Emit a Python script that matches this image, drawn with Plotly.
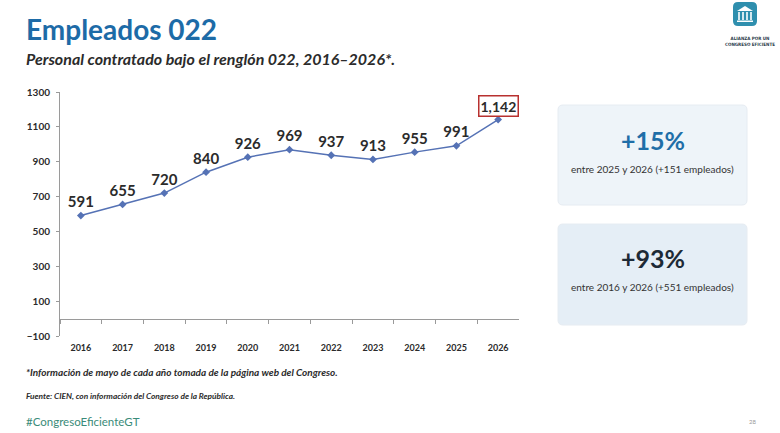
import plotly.graph_objects as go

W, H = 780, 433

years = ["2016", "2017", "2018", "2019", "2020", "2021", "2022", "2023", "2024", "2025", "2026"]
employees = [591, 655, 720, 840, 926, 969, 937, 913, 955, 991, 1142]
y_ticks = [-100, 100, 300, 500, 700, 900, 1100, 1300]

kpi_main = ["+15%", "+93%"]
kpi_sub = ["entre 2025 y 2026 (+151 empleados)", "entre 2016 y 2026 (+551 empleados)"]

FONT = "Lato"
DARK = "#2b2b2b"


def px_x(x):
    return x / W


def px_y(y):
    return 1 - y / H


def rounded_rect(x0, y0, x1, y1, r):
    # path in paper coords, rounded corners, input in pixels
    X = lambda v: px_x(v)
    Y = lambda v: px_y(v)
    return (f"M {X(x0 + r)},{Y(y0)} L {X(x1 - r)},{Y(y0)} "
            f"Q {X(x1)},{Y(y0)} {X(x1)},{Y(y0 + r)} L {X(x1)},{Y(y1 - r)} "
            f"Q {X(x1)},{Y(y1)} {X(x1 - r)},{Y(y1)} L {X(x0 + r)},{Y(y1)} "
            f"Q {X(x0)},{Y(y1)} {X(x0)},{Y(y1 - r)} L {X(x0)},{Y(y0 + r)} "
            f"Q {X(x0)},{Y(y0)} {X(x0 + r)},{Y(y0)} Z")


labels = [f"{v:,}" for v in employees]
labels[-1] = ""

fig = go.Figure()
fig.add_trace(go.Scatter(
    x=years, y=employees, mode="lines+markers+text",
    line=dict(color="#5572b5", width=1.5),
    marker=dict(symbol="diamond", size=6, color="#5572b5"),
    text=labels, textposition="top center",
    textfont=dict(family=FONT, size=15, color=DARK, weight="bold"),
    cliponaxis=False, hoverinfo="skip",
))

# highlighted last value
fig.add_annotation(
    x=len(years) - 1, y=employees[-1], xref="x", yref="y",
    text=f"<b>{employees[-1]:,}</b>", showarrow=False, yshift=14,
    font=dict(family=FONT, size=14, color=DARK),
    bordercolor="#b8312f", borderwidth=1.5, borderpad=1, bgcolor="white",
)

y0_dom, y1_dom = px_y(336), px_y(92)
rng = [-100, 1300]
zero_pos = y0_dom + (0 - rng[0]) / (rng[1] - rng[0]) * (y1_dom - y0_dom)

fig.update_layout(
    width=W, height=H,
    margin=dict(l=0, r=0, t=0, b=0, autoexpand=False),
    paper_bgcolor="white", plot_bgcolor="white",
    showlegend=False,
    font=dict(family=FONT, color=DARK),
    xaxis=dict(
        domain=[px_x(60), px_x(519)],
        anchor="free", position=zero_pos,
        type="category", range=[-0.5, 10.5],
        showline=True, linecolor="#9a9a9a", linewidth=1,
        ticks="outside", tickson="boundaries", ticklen=4, tickcolor="#9a9a9a",
        ticklabelstandoff=21,
        tickfont=dict(family=FONT, size=9, color=DARK, weight="bold"),
        showgrid=False, zeroline=False,
    ),
    yaxis=dict(
        domain=[y0_dom, y1_dom],
        range=rng, tickvals=y_ticks,
        showline=True, linecolor="#9a9a9a", linewidth=1,
        ticks="outside", ticklen=3, tickcolor="#9a9a9a",
        ticklabelstandoff=4,
        tickfont=dict(family=FONT, size=10, color=DARK, weight="bold"),
        showgrid=False, zeroline=False,
    ),
)

# KPI boxes
boxes = [(558, 105, 747, 205, "#eef4f9", "#1f6ea8", 140, 169),
         (558, 224, 747, 325, "#e5eef6", "#1d2a36", 258, 287)]
for i, (bx0, by0, bx1, by1, fill, col, ty, sy) in enumerate(boxes):
    fig.add_shape(type="path", path=rounded_rect(bx0, by0, bx1, by1, 5),
                  xref="paper", yref="paper", fillcolor=fill,
                  line=dict(color="#e6ecf2", width=1), layer="below")
    fig.add_annotation(x=px_x((bx0 + bx1) / 2), y=px_y(ty), xref="paper", yref="paper",
                       text=f"<b>{kpi_main[i]}</b>", showarrow=False,
                       xanchor="center", yanchor="middle",
                       font=dict(family=FONT, size=25, color=col, weight=900))
    fig.add_annotation(x=px_x((bx0 + bx1) / 2), y=px_y(sy), xref="paper", yref="paper",
                       text=kpi_sub[i], showarrow=False,
                       xanchor="center", yanchor="middle",
                       font=dict(family=FONT, size=10, color="#333333"))

# titles and notes
texts = [
    ("<b>Empleados 022</b>", 24, 29, 28, "#1d6ba7"),
    ("<b><i>Personal contratado bajo el renglón 022, 2016–2026*.</i></b>", 24, 58, 16, DARK),
    ("<b><i>*Información de mayo de cada año tomada de la página web del Congreso.</i></b>", 24, 372, 10, DARK),
    ("<b><i>Fuente: CIEN, con información del Congreso de la República.</i></b>", 24, 396, 8.3, DARK),
    ("#CongresoEficienteGT", 24, 421, 11.5, "#3a8b79"),
]
for txt, tx, ty, size, col in texts:
    fig.add_annotation(x=px_x(tx), y=px_y(ty), xref="paper", yref="paper",
                       text=txt, showarrow=False, xanchor="left", yanchor="middle",
                       font=dict(family=FONT, size=size, color=col))

fig.add_annotation(x=px_x(752), y=px_y(421), xref="paper", yref="paper",
                   text="28", showarrow=False, xanchor="center", yanchor="middle",
                   font=dict(family=FONT, size=6, color="#999999"))

# logo
fig.add_shape(type="path", path=rounded_rect(733, 2, 757, 26, 5),
              xref="paper", yref="paper", fillcolor="#2f8fae", line=dict(width=0))
fig.add_shape(type="path",
              path=f"M {px_x(737)},{px_y(11)} L {px_x(745)},{px_y(6)} L {px_x(753)},{px_y(11)} Z",
              xref="paper", yref="paper", fillcolor="white", line=dict(width=0))
for cx in (739, 743, 747, 751):
    fig.add_shape(type="rect", x0=px_x(cx - 0.8), x1=px_x(cx + 0.8), y0=px_y(20), y1=px_y(12),
                  xref="paper", yref="paper", fillcolor="white", line=dict(width=0))
fig.add_shape(type="rect", x0=px_x(737), x1=px_x(753), y0=px_y(22), y1=px_y(20.5),
              xref="paper", yref="paper", fillcolor="white", line=dict(width=0))
fig.add_annotation(x=px_x(750), y=px_y(42), xref="paper", yref="paper",
                   text="<b>ALIANZA POR UN<br>CONGRESO EFICIENTE</b>", showarrow=False,
                   xanchor="center", yanchor="middle",
                   font=dict(family="DejaVu Sans Condensed", size=4.5, color="#2a3a4a"))

fig.write_html("out.html", config={"displayModeBar": False},
               post_script="document.body.style.margin='0';")
